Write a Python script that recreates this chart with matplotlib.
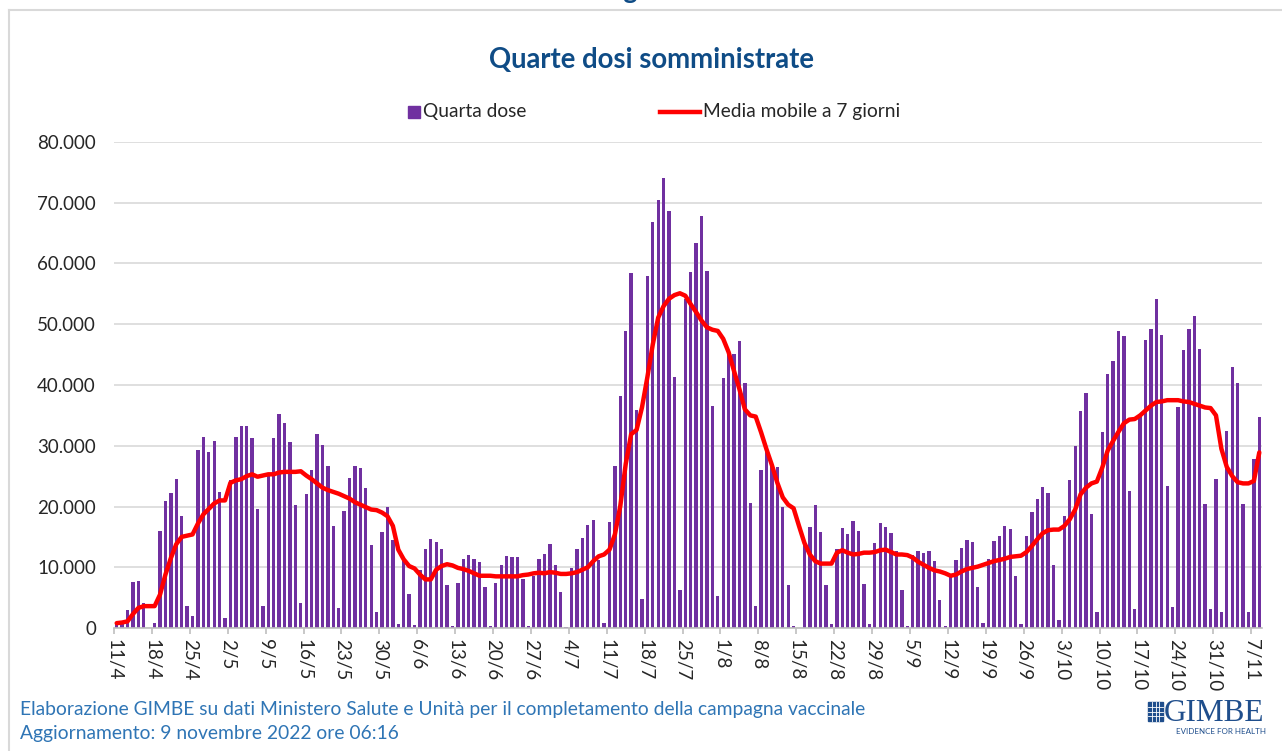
import matplotlib.pyplot as plt
import numpy as np
from matplotlib.patches import Rectangle
from matplotlib.lines import Line2D
from matplotlib.ticker import FuncFormatter

plt.rcParams['font.family'] = ['Lato', 'DejaVu Sans']

# quarte dosi giornaliere, dall'11/4/2022 all'8/11/2022 (una riga = una settimana, lun-dom)
quarta_dose = [
    1000, 1200, 2900, 7600, 7700, 4100, 0,
    800, 16000, 20900, 22300, 24500, 18400, 3700,
    1900, 29300, 31500, 28900, 30800, 22400, 1650,
    24300, 31500, 33200, 33200, 31300, 19600, 3700,
    25200, 31200, 35200, 33800, 30600, 20200, 4100,
    22000, 26000, 32000, 30100, 26600, 16800, 3300,
    19200, 24700, 26600, 26400, 23000, 13600, 2600,
    15800, 19900, 14500, 660, 11000, 5600, 440,
    9600, 13000, 14600, 14200, 13000, 7000, 400,
    7400, 11300, 12000, 11300, 10800, 6700, 300,
    7400, 10400, 11900, 11700, 11700, 8000, 400,
    8600, 11300, 12200, 13800, 10300, 5900, 200,
    9800, 13000, 14800, 16900, 17800, 11200, 900,
    17400, 26600, 38200, 48900, 58400, 35900, 4700,
    57900, 66800, 70400, 74000, 68700, 41300, 6200,
    54200, 58600, 63400, 67800, 58700, 36500, 5200,
    41100, 45100, 45100, 47200, 40300, 20500, 3600,
    26000, 29800, 26800, 26500, 20000, 7150, 400,
    0, 13600, 16600, 20200, 15800, 7000, 600,
    13000, 16400, 15400, 17600, 15900, 7300, 700,
    14000, 17300, 16700, 15700, 12700, 6300, 400,
    12000, 12700, 12300, 12600, 11100, 4600, 300,
    8700, 11200, 13100, 14500, 14200, 6800, 800,
    11400, 14300, 15100, 16800, 16300, 8500, 700,
    15100, 19100, 21200, 23200, 22300, 10300, 1300,
    18400, 24400, 29900, 35700, 38700, 18700, 2700,
    32300, 41800, 44000, 48900, 48100, 22500, 3100,
    35200, 47400, 49200, 54100, 48300, 23300, 3400,
    36300, 45700, 49300, 51400, 46000, 20400, 3100,
    24500, 2600, 32500, 42900, 40300, 20400, 2600,
    27900, 34800,
]

media_mobile = [
    800, 900, 1100, 2300, 3300, 3600, 3600,
    3600, 5500, 8800, 11500, 13800, 15000, 15200,
    15400, 17200, 18700, 19600, 20500, 21000, 21000,
    23900, 24300, 24500, 25000, 25300, 24900, 25100,
    25300, 25300, 25600, 25700, 25700, 25700, 25800,
    25100, 24500, 23800, 23100, 22700, 22400, 22100,
    21700, 21300, 20700, 20300, 19900, 19500, 19400,
    19000, 18400, 16800, 12900, 11300, 10200, 9800,
    8800, 8000, 8000, 9600, 10200, 10500, 10300,
    9900, 9700, 9400, 9000, 8600, 8600, 8600,
    8500, 8500, 8500, 8500, 8500, 8700, 8800,
    9000, 9100, 9000, 9200, 9100, 8900, 8900,
    9000, 9200, 9600, 10000, 11000, 11800, 12100,
    12900, 15400, 20100, 27000, 31900, 32600, 36300,
    41300, 46700, 51100, 53000, 54200, 54800, 55100,
    54700, 53300, 52000, 50600, 49500, 49100, 48900,
    47600, 45400, 42300, 39300, 36000, 35000, 34800,
    32200, 29400, 26800, 23900, 21500, 20300, 19700,
    16800, 14000, 12100, 11000, 10600, 10600, 10600,
    12400, 12800, 12400, 12100, 12200, 12400, 12400,
    12500, 12800, 12900, 12500, 12100, 12100, 12000,
    11600, 10900, 10400, 9900, 9500, 9300, 9000,
    8600, 8800, 9300, 9700, 9900, 10100, 10400,
    10700, 11000, 11200, 11400, 11700, 11800, 11900,
    12500, 13500, 14600, 15600, 16100, 16200, 16200,
    16800, 17900, 19500, 22000, 23100, 23800, 24100,
    26400, 29200, 30800, 32300, 33700, 34300, 34400,
    35000, 35800, 36600, 37200, 37300, 37500, 37500,
    37500, 37300, 37200, 36900, 36600, 36300, 36200,
    35000, 29500, 26500, 25000, 24000, 23800, 23800,
    24200, 28900,
]

tick_labels = ['11/4', '18/4', '25/4', '2/5', '9/5', '16/5', '23/5', '30/5',
               '6/6', '13/6', '20/6', '27/6', '4/7', '11/7', '18/7', '25/7',
               '1/8', '8/8', '15/8', '22/8', '29/8', '5/9', '12/9', '19/9',
               '26/9', '3/10', '10/10', '17/10', '24/10', '31/10', '7/11']

W, H = 1282, 751
PURPLE = '#7030A0'
RED = '#FF0000'
TITLE_BLUE = '#0F4C86'
FOOT_BLUE = '#2F75B5'
TXT = '#262626'


def fx(px):
    return px / W


def fy(py):
    return 1 - py / H


fig = plt.figure(figsize=(W / 100, H / 100), dpi=100)

# cornice grigia
fig.add_artist(Line2D([fx(9), 1], [fy(10), fy(10)], color='#d9d9d9', lw=1.5))
fig.add_artist(Line2D([fx(9), fx(9)], [fy(10), 0], color='#d9d9d9', lw=1.5))

# testo tagliato in alto
fig.text(fx(603), fy(-1), 'Figura', ha='left', va='baseline', fontsize=19,
         fontweight='bold', color=TITLE_BLUE)

ax = fig.add_axes([fx(114), fy(628), fx(1262) - fx(114), fy(142) - fy(628)])

x = np.arange(len(quarta_dose))
ax.bar(x, quarta_dose, width=0.62, color=PURPLE, zorder=2)
ax.plot(np.arange(len(media_mobile)), media_mobile, color=RED, lw=3.2, zorder=3,
        solid_joinstyle='round', solid_capstyle='round')

ax.set_xlim(-0.5, len(quarta_dose) - 0.5)
ax.set_ylim(0, 80000)
ax.set_yticks(np.arange(0, 80001, 10000))
ax.yaxis.set_major_formatter(FuncFormatter(lambda v, p: f'{int(v):,}'.replace(',', '.')))
ax.set_xticks(np.arange(len(tick_labels)) * 7 - 0.5)
ax.set_xticklabels(tick_labels, rotation=-90)

ax.yaxis.grid(True, color='#d9d9d9', lw=1.2)
ax.set_axisbelow(True)
for s in ['top', 'right', 'left']:
    ax.spines[s].set_visible(False)
ax.spines['bottom'].set_color('#bfbfbf')
ax.spines['bottom'].set_linewidth(1.2)
ax.tick_params(axis='y', length=0, pad=13, labelsize=13.5, labelcolor=TXT)
ax.tick_params(axis='x', length=4, width=1.2, color='#bfbfbf', pad=4,
               labelsize=13.5, labelcolor=TXT)

# titolo
fig.text(fx(651), fy(60), 'Quarte dosi somministrate', ha='center', va='center',
         fontsize=19.8, fontweight='bold', color=TITLE_BLUE)

# legenda
fig.add_artist(Rectangle((fx(408), fy(118)), fx(12), 12 / H, color=PURPLE,
                         transform=fig.transFigure))
fig.text(fx(423), fy(112), 'Quarta dose', va='center', fontsize=13.8, color=TXT)
fig.add_artist(Line2D([fx(660), fx(700)], [fy(112), fy(112)], color=RED, lw=3.2))
fig.text(fx(703), fy(112), 'Media mobile a 7 giorni', va='center', fontsize=13.8, color=TXT)

# fonte
fig.text(fx(20), fy(709), 'Elaborazione GIMBE su dati Ministero Salute e Unità per il '
         'completamento della campagna vaccinale', va='center', fontsize=13.9, color=FOOT_BLUE)
fig.text(fx(20), fy(734), 'Aggiornamento: 9 novembre 2022 ore 06:16', va='center',
         fontsize=13.9, color=FOOT_BLUE)

# logo GIMBE
logo_blue = '#1F4E8C'
fig.add_artist(Rectangle((fx(1148), fy(721)), fx(15), 19 / H, color=logo_blue,
                         transform=fig.transFigure))
for i in range(1, 4):
    fig.add_artist(Line2D([fx(1148), fx(1163)], [fy(702 + 4.75 * i)] * 2, color='white', lw=0.6))
    fig.add_artist(Line2D([fx(1148 + 3.75 * i)] * 2, [fy(702), fy(721)], color='white', lw=0.6))
fig.text(fx(1164), fy(721), 'GIMBE', ha='left', va='baseline', fontsize=22.5,
         family=['Liberation Serif', 'DejaVu Serif'], color=logo_blue)
fig.text(fx(1266), fy(731), 'EVIDENCE FOR HEALTH', ha='right', va='center', fontsize=5.8,
         color=logo_blue)

fig.savefig('out.png', dpi=100)
